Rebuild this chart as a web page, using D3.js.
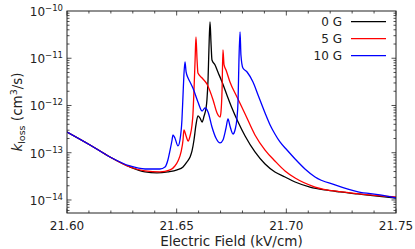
<!DOCTYPE html>
<html><head><meta charset="utf-8">
<script src="https://cdn.jsdelivr.net/npm/d3@7"></script>
<style>body{margin:0;background:#fff}svg{display:block}text{font-family:"DejaVu Sans",sans-serif;fill:#222}</style>
</head><body><svg id="c" width="415" height="249"></svg>
<script>
const seriesNames = ["0 G", "5 G", "10 G"];
const seriesColors = ["#000000", "#ff0000", "#0000ff"];
const xTicks = [21.60, 21.65, 21.70, 21.75];
const yTickExps = [-10, -11, -12, -13, -14];

const field0G = [21.6000,21.6105,21.6196,21.6287,21.6356,21.6410,21.6460,21.6502,21.6529,21.6547,21.6561,21.6570,21.6579,21.6588,21.6597,21.6606,21.6616,21.6625,21.6634,21.6638,21.6643,21.6647,21.6652,21.6657,21.6661,21.6675,21.6688,21.6707,21.6729,21.6752,21.6780,21.6812,21.6857,21.6903,21.6948,21.6994,21.7040,21.7108,21.7176,21.7245,21.7327,21.7404,21.7500];
const kloss0G = [2.75e-13,1.46e-13,8.13e-14,4.99e-14,3.92e-14,3.73e-14,3.92e-14,4.32e-14,4.99e-14,6.37e-14,8.13e-14,1.09e-13,1.86e-13,3.87e-13,6.00e-13,5.44e-13,4.47e-13,6.00e-13,8.85e-13,1.31e-12,3.47e-12,1.50e-11,5.85e-11,1.91e-11,9.18e-12,7.20e-12,5.12e-12,3.14e-12,1.67e-12,8.85e-13,4.47e-13,2.26e-13,1.04e-13,5.78e-14,3.92e-14,3.07e-14,2.40e-14,1.88e-14,1.63e-14,1.48e-14,1.34e-14,1.22e-14,1.10e-14];

const field5G = [21.6000,21.6105,21.6196,21.6287,21.6356,21.6424,21.6470,21.6492,21.6506,21.6520,21.6529,21.6533,21.6543,21.6552,21.6561,21.6570,21.6574,21.6579,21.6584,21.6588,21.6593,21.6597,21.6616,21.6638,21.6666,21.6684,21.6698,21.6702,21.6707,21.6711,21.6716,21.6725,21.6743,21.6775,21.6812,21.6857,21.6903,21.6948,21.6994,21.7040,21.7131,21.7254,21.7382,21.7500];
const kloss5G = [2.75e-13,1.46e-13,8.13e-14,4.99e-14,4.11e-14,3.92e-14,4.32e-14,5.24e-14,6.69e-14,1.04e-13,1.86e-13,3.03e-13,2.26e-13,1.77e-13,2.26e-13,3.87e-13,6.30e-13,2.13e-12,9.18e-12,2.82e-11,9.18e-12,4.87e-12,3.82e-12,2.85e-12,1.31e-12,6.94e-13,5.71e-13,7.29e-13,2.13e-12,1.50e-11,7.20e-12,5.64e-12,3.14e-12,1.51e-12,6.61e-13,2.38e-13,1.14e-13,6.69e-14,4.11e-14,2.92e-14,1.88e-14,1.48e-14,1.28e-14,1.16e-14];

const field10G = [21.6000,21.6105,21.6196,21.6287,21.6356,21.6424,21.6447,21.6460,21.6470,21.6479,21.6483,21.6492,21.6506,21.6515,21.6524,21.6529,21.6533,21.6538,21.6543,21.6552,21.6561,21.6574,21.6597,21.6616,21.6629,21.6643,21.6661,21.6679,21.6698,21.6711,21.6725,21.6734,21.6743,21.6757,21.6766,21.6775,21.6780,21.6784,21.6789,21.6793,21.6802,21.6821,21.6848,21.6871,21.6903,21.6926,21.6948,21.6971,21.7003,21.7040,21.7085,21.7131,21.7222,21.7327,21.7427,21.7500];
const kloss10G = [2.75e-13,1.46e-13,8.13e-14,5.24e-14,4.53e-14,4.53e-14,4.99e-14,7.02e-14,1.14e-13,1.86e-13,2.38e-13,2.05e-13,1.39e-13,1.86e-13,4.93e-13,1.67e-12,4.42e-12,8.33e-12,5.12e-12,3.82e-12,3.14e-12,2.35e-12,1.19e-12,7.65e-13,8.85e-13,7.29e-13,3.51e-13,2.05e-13,1.61e-13,1.86e-13,3.34e-13,5.18e-13,3.68e-13,2.49e-13,3.03e-13,5.44e-13,1.31e-12,9.18e-12,3.59e-11,1.17e-11,6.22e-12,5.12e-12,3.14e-12,1.67e-12,6.94e-13,3.87e-13,2.49e-13,1.69e-13,1.14e-13,7.37e-14,4.53e-14,3.07e-14,2.08e-14,1.48e-14,1.28e-14,1.10e-14];

const fields = [field0G, field5G, field10G];
const klosses = [kloss0G, kloss5G, kloss10G];

const svg = d3.select("#c");
const L = 67, R = 396, T = 11, B = 213;
const x = d3.scaleLinear().domain([21.60, 21.75]).range([L, R]);
const y = d3.scaleLog().domain([5.3e-15, 1e-10]).range([B, T]);

svg.append("clipPath").attr("id","pc").append("rect").attr("x",L).attr("y",T).attr("width",R-L).attr("height",B-T);
const line = d3.line().curve(d3.curveMonotoneX).x(d => x(d[0])).y(d => y(d[1]));
seriesNames.forEach((n, i) => {
  const pts = fields[i].map((f, j) => [f, klosses[i][j]]);
  svg.append("path").datum(pts).attr("d", line).attr("fill","none")
    .attr("stroke", seriesColors[i]).attr("stroke-width", 1.3)
    .attr("stroke-linejoin","round").attr("clip-path","url(#pc)");
});

const minorX = d3.range(0, 16).map(i => 21.60 + i*0.01);
const gx = svg.append("g");
minorX.forEach(v => {
  const isMajor = xTicks.some(t => Math.abs(t - v) < 1e-6);
  const len = isMajor ? 4.5 : 2.5;
  gx.append("line").attr("x1", x(v)).attr("x2", x(v)).attr("y1", B).attr("y2", B - len).attr("stroke","#222").attr("stroke-width",0.8);
  gx.append("line").attr("x1", x(v)).attr("x2", x(v)).attr("y1", T).attr("y2", T + len).attr("stroke","#222").attr("stroke-width",0.8);
});
xTicks.forEach(t => {
  svg.append("text").attr("x", x(t)).attr("y", 230).attr("text-anchor","middle").attr("font-size", 12).text(d3.format(".2f")(t));
});

const gy = svg.append("g");
for (let e = -15; e <= -11; e++) {
  for (let m = 1; m <= 9; m++) {
    const v = m * Math.pow(10, e);
    if (v < 5.3e-15 || v > 1e-10) continue;
    const len = m === 1 ? 4.5 : 2.5;
    gy.append("line").attr("x1", L).attr("x2", L + len).attr("y1", y(v)).attr("y2", y(v)).attr("stroke","#222").attr("stroke-width",0.8);
    gy.append("line").attr("x1", R).attr("x2", R - len).attr("y1", y(v)).attr("y2", y(v)).attr("stroke","#222").attr("stroke-width",0.8);
  }
}
yTickExps.forEach(e => {
  const t = svg.append("text").attr("x", 63).attr("y", y(Math.pow(10, e)) + 5).attr("text-anchor","end").attr("font-size", 12);
  t.append("tspan").text("10");
  t.append("tspan").attr("dy", -5).attr("font-size", 8.5).text(String(e).replace("-", "\u2212"));
});

svg.append("rect").attr("x", L).attr("y", T).attr("width", R-L).attr("height", B-T).attr("fill","none").attr("stroke","#222").attr("stroke-width",1);

svg.append("text").attr("x", (L+R)/2).attr("y", 246).attr("text-anchor","middle").attr("font-size", 13.5).text("Electric Field (kV/cm)");
const yl = svg.append("text").attr("transform", "translate(22," + ((T+B)/2) + ") rotate(-90)").attr("text-anchor","middle").attr("font-size", 13.5);
yl.append("tspan").attr("font-style","italic").text("k");
yl.append("tspan").attr("dy", 3).attr("font-size", 9.5).text("loss");
yl.append("tspan").attr("dy", -3).text(" (cm");
yl.append("tspan").attr("dy", -5).attr("font-size", 9.5).text("3");
yl.append("tspan").attr("dy", 5).text("/s)");

seriesNames.forEach((n, i) => {
  const ly = 21.7 + i * 17;
  svg.append("text").attr("x", 342).attr("y", ly + 4.5).attr("text-anchor","end").attr("font-size", 12).text(n);
  svg.append("line").attr("x1", 351).attr("x2", 386).attr("y1", ly).attr("y2", ly).attr("stroke", seriesColors[i]).attr("stroke-width", 1.3);
});
</script></body></html>
